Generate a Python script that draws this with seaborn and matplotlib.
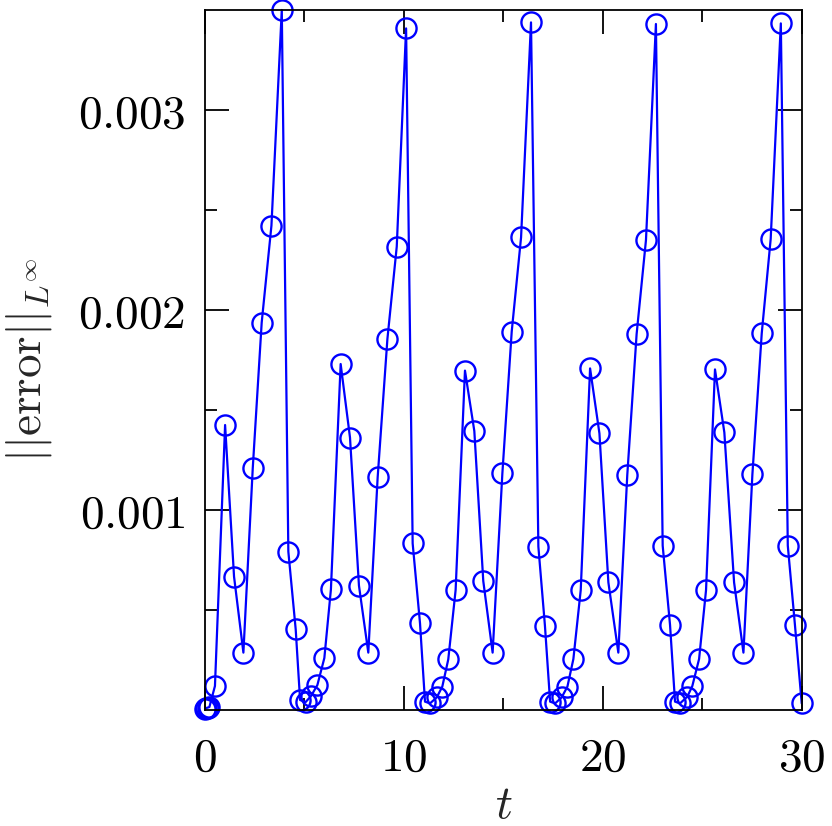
import numpy as np
import pandas as pd
import matplotlib
matplotlib.use("Agg")
import matplotlib.pyplot as plt
from matplotlib.ticker import FixedLocator, FuncFormatter
import seaborn as sns

# time samples and the L-infinity error at each
t = [0.00, 0.06, 0.13, 0.22, 0.50, 1.01, 1.46, 1.93, 2.40, 2.85, 3.34, 3.86,
     4.19, 4.56, 4.78, 5.06, 5.33, 5.65, 6.00, 6.33, 6.82, 7.29, 7.74, 8.21,
     8.68, 9.17, 9.64, 10.11, 10.44, 10.81, 11.06, 11.31, 11.65, 11.93, 12.23,
     12.60, 13.07, 13.54, 13.99, 14.46, 14.95, 15.42, 15.89, 16.39, 16.76,
     17.09, 17.35, 17.60, 17.93, 18.22, 18.52, 18.89, 19.36, 19.83, 20.28,
     20.78, 21.23, 21.70, 22.17, 22.67, 23.01, 23.38, 23.63, 23.88, 24.25,
     24.50, 24.84, 25.19, 25.64, 26.11, 26.60, 27.07, 27.52, 27.99, 28.44,
     28.95, 29.30, 29.66, 30.00]
err = [0.000005, 0.00001, 0.000012, 0.000015, 0.00012, 0.001425, 0.000667,
       0.000287, 0.001208, 0.001937, 0.002422, 0.0035, 0.000792, 0.000403,
       0.00005, 0.00004, 0.00007, 0.000125, 0.00026, 0.000603, 0.00173,
       0.001362, 0.000622, 0.000287, 0.001163, 0.001855, 0.002317, 0.003408,
       0.000833, 0.000433, 0.000042, 0.000033, 0.000063, 0.000117, 0.000253,
       0.0006, 0.001697, 0.001395, 0.000645, 0.000287, 0.001183, 0.001892,
       0.002363, 0.003438, 0.000817, 0.000422, 0.000042, 0.000033, 0.000063,
       0.000117, 0.000255, 0.0006, 0.001708, 0.001383, 0.000638, 0.000287,
       0.001175, 0.00188, 0.00235, 0.00343, 0.000822, 0.000425, 0.000042,
       0.000033, 0.000067, 0.00012, 0.000255, 0.0006, 0.001703, 0.001388,
       0.000638, 0.000287, 0.001178, 0.001883, 0.002355, 0.003433, 0.000822,
       0.000425, 0.000033]

x_major = [0, 10, 20, 30]
x_minor = [5, 15, 25]
y_major = [0.001, 0.002, 0.003]
y_minor = [0.0005, 0.0015, 0.0025]

df = pd.DataFrame({"t": t, "err": err})

sns.set_style("ticks")
plt.rcParams["mathtext.fontset"] = "cm"
plt.rcParams["font.family"] = ["DejaVu Serif"]

fig = plt.figure(figsize=(8.32, 8.26), dpi=100)
ax = fig.add_axes([0.2464, 0.1404, 0.7172, 0.8475])

sns.lineplot(data=df, x="t", y="err", ax=ax, sort=False, estimator=None,
             color="#0000ff", linewidth=1.6, marker="o", markersize=14.5,
             markerfacecolor="none", markeredgecolor="#0000ff",
             markeredgewidth=1.7, clip_on=False)

ax.set_xlim(0, 30)
ax.set_ylim(0, 0.0035)

ax.xaxis.set_major_locator(FixedLocator(x_major))
ax.xaxis.set_minor_locator(FixedLocator(x_minor))
ax.yaxis.set_major_locator(FixedLocator(y_major))
ax.yaxis.set_minor_locator(FixedLocator(y_minor))
ax.xaxis.set_major_formatter(FuncFormatter(lambda v, _: f"${v:g}$"))
ax.yaxis.set_major_formatter(FuncFormatter(lambda v, _: f"${v:.3f}$"))

ax.tick_params(which="both", direction="in", top=True, right=True,
               width=1.3, colors="black", labelsize=34)
ax.tick_params(which="major", length=17, pad=14)
ax.tick_params(which="minor", length=8.5)
ax.tick_params(axis="x", which="major", pad=18)

for sp in ax.spines.values():
    sp.set_linewidth(1.3)
    sp.set_color("black")

ax.set_xlabel(r"$t$", fontsize=34, labelpad=2)
ax.set_ylabel(r"$||\mathrm{error}||_{L^\infty}$", fontsize=34, labelpad=17)

fig.savefig("out.png", dpi=100)
